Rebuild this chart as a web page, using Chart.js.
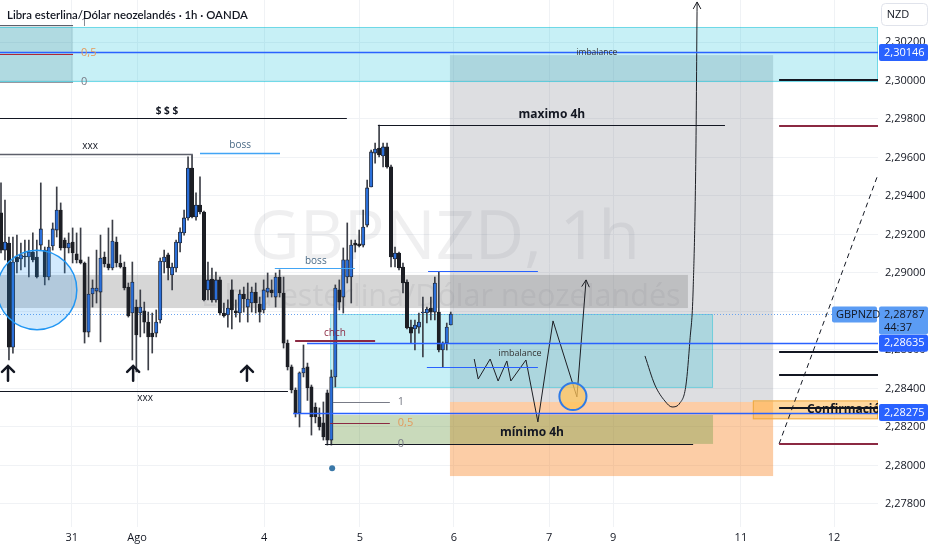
<!DOCTYPE html>
<html>
<head>
<meta charset="utf-8">
<script src="https://cdn.jsdelivr.net/npm/chart.js@4.4.1/dist/chart.umd.min.js"></script>
<style>
  html, body { margin: 0; padding: 0; background: #fff; }
  #wrap { width: 932px; height: 550px; }
</style>
</head>
<body>
<div id="wrap"><canvas id="chart" width="932" height="550"></canvas></div>
<script>
// ================= Data (GBPNZD 1h) =================
const opens = [2.29312,2.29119,2.29156,2.28615,2.29083,2.29073,2.29088,2.29083,2.29109,2.29083,
  2.29145,2.29119,2.28979,2.29140,2.29223,2.29327,2.29171,2.29130,2.29161,2.29099,
  2.29068,2.29052,2.28693,2.28891,2.28906,2.28901,2.29083,2.29047,2.29026,2.29161,
  2.29052,2.29031,2.28927,2.28792,2.28823,2.28792,2.28803,2.28745,2.28688,2.28688,
  2.28756,2.29057,2.29094,2.28990,2.29026,2.29156,2.29208,2.29286,2.29545,2.29291,
  2.29353,2.29317,2.28912,2.28969,2.28860,2.28964,2.28792,2.28782,2.28912,2.28803,
  2.28792,2.28891,2.28823,2.28844,2.28901,2.28839,2.28808,2.28901,2.28912,2.28875,
  2.28979,2.28896,2.28636,2.28512,2.28392,2.28273,2.28481,2.28512,2.28408,2.28304,
  2.28252,2.28221,2.28377,2.28132,2.28460,2.28912,2.28875,2.28979,2.28979,2.29156,
  2.29151,2.29145,2.29249,2.29447,2.29623,2.29649,2.29608,2.29655,2.29551,2.29073,
  2.29104,2.29031,2.28953,2.28719,2.28709,2.28719,2.28792,2.28792,2.28818,2.28797,
  2.28797,2.28600,2.28636,2.28730];
const highs = [2.29468,2.29379,2.29187,2.29187,2.29197,2.29156,2.29171,2.29171,2.29208,2.29171,
  2.29468,2.29135,2.29171,2.29260,2.29447,2.29364,2.29182,2.29208,2.29234,2.29208,
  2.29234,2.29057,2.29083,2.28964,2.29119,2.29197,2.29109,2.29234,2.29275,2.29187,
  2.29094,2.29057,2.28948,2.29057,2.28860,2.28912,2.28849,2.28797,2.28792,2.28808,
  2.29078,2.29119,2.29104,2.29052,2.29171,2.29234,2.29327,2.29603,2.29613,2.29416,
  2.29499,2.29322,2.29057,2.29026,2.29005,2.28979,2.28844,2.28860,2.28964,2.28860,
  2.28912,2.28927,2.28948,2.28927,2.28948,2.28875,2.28964,2.29000,2.28964,2.29000,
  2.29016,2.28979,2.28652,2.28522,2.28403,2.28486,2.28626,2.28532,2.28418,2.28325,
  2.28299,2.28330,2.28392,2.28496,2.28938,2.28964,2.29130,2.29260,2.29171,2.29171,
  2.29223,2.29327,2.29483,2.29639,2.29675,2.29769,2.29675,2.29675,2.29561,2.29135,
  2.29109,2.29052,2.28964,2.28756,2.28756,2.28792,2.28875,2.28823,2.28875,2.28979,
  2.29005,2.28642,2.28740,2.28797];
const lows = [2.29104,2.29068,2.28548,2.28584,2.29000,2.29016,2.29031,2.28979,2.29057,2.28974,
  2.29119,2.28938,2.28964,2.29119,2.29187,2.29119,2.29000,2.29104,2.29052,2.29052,
  2.29047,2.28636,2.28668,2.28823,2.28844,2.28642,2.29031,2.29016,2.29016,2.29031,
  2.29026,2.28912,2.28771,2.28548,2.28486,2.28668,2.28688,2.28496,2.28584,2.28668,
  2.28740,2.29000,2.28964,2.28912,2.29005,2.29109,2.29197,2.29275,2.29286,2.29275,
  2.29307,2.28855,2.28860,2.28849,2.28849,2.28782,2.28771,2.28719,2.28709,2.28771,
  2.28745,2.28797,2.28745,2.28797,2.28792,2.28745,2.28792,2.28875,2.28875,2.28823,
  2.28875,2.28610,2.28496,2.28377,2.28252,2.28200,2.28460,2.28338,2.28158,2.28221,
  2.28184,2.28132,2.28106,2.28106,2.28408,2.28808,2.28792,2.28948,2.28844,2.29109,
  2.29135,2.29135,2.29239,2.29447,2.29571,2.29603,2.29551,2.29545,2.29031,2.29031,
  2.29016,2.28896,2.28709,2.28636,2.28600,2.28688,2.28564,2.28740,2.28756,2.28756,
  2.28590,2.28512,2.28600,2.28730];
const closes = [2.29119,2.29161,2.28615,2.29057,2.29057,2.29094,2.29083,2.29109,2.29068,2.28979,
  2.29229,2.28979,2.29135,2.29229,2.29327,2.29130,2.29130,2.29156,2.29104,2.29068,
  2.29052,2.28693,2.28891,2.28922,2.28922,2.29078,2.29047,2.29026,2.29166,2.29052,
  2.29031,2.28922,2.28777,2.28953,2.28678,2.28823,2.28745,2.28668,2.28668,2.28745,
  2.29062,2.29083,2.29026,2.29031,2.29161,2.29213,2.29286,2.29545,2.29291,2.29353,
  2.29317,2.28860,2.28964,2.28860,2.28964,2.28792,2.28777,2.28818,2.28808,2.28792,
  2.28891,2.28865,2.28865,2.28901,2.28844,2.28797,2.28912,2.28922,2.28896,2.28979,
  2.28896,2.28636,2.28512,2.28392,2.28273,2.28481,2.28506,2.28403,2.28252,2.28252,
  2.28200,2.28148,2.28132,2.28460,2.28922,2.28849,2.29068,2.29068,2.29145,2.29145,
  2.29140,2.29239,2.29442,2.29629,2.29644,2.29613,2.29655,2.29551,2.29083,2.29104,
  2.29026,2.28948,2.28714,2.28688,2.28730,2.28745,2.28797,2.28813,2.28797,2.28948,
  2.28600,2.28636,2.28719,2.28787];

const dateTicks  = [17.8, 34.2, 66.1, 90.2, 113.8, 137.7, 153.8, 185.9, 209.3]; // bar index
const dateLabels = ['31', 'Ago', '4', '5', '6', '7', '9', '11', '12'];
const priceTicks = [2.278, 2.280, 2.282, 2.284, 2.286, 2.288, 2.290, 2.292, 2.294, 2.296, 2.298, 2.300, 2.302];
const lastPrice = 2.28787;
const taggedPrices = [2.30146, 2.28635, 2.28275];

// hand drawn paths (bar index, price)
const zigzagX = [118.9, 119.9, 122.9, 124.9, 127.1, 128.1, 131.9, 134.9, 138.7, 144.7, 147.0];
const zigzagY = [2.28553, 2.28449, 2.28553, 2.28439, 2.28543, 2.28439, 2.28548, 2.28226, 2.28751, 2.28356, 2.28964];
const uturnX = [161.8, 164.3, 166.8, 168.6, 170.6, 172.1, 173.1, 173.9, 174.6, 174.9];
const uturnY = [2.28569, 2.28418, 2.28335, 2.28304, 2.28325, 2.28418, 2.28652, 2.28912, 2.29639, 2.30408];
const trendX = [195.5, 220.3];
const trendY = [2.28112, 2.29509];

// ================= Drawings (bar index / price units) =================
const zones = [
  { x0: 112.8, x1: 194, top: 2.30132, bot: 2.28330, fill: 'rgba(120,123,134,0.25)' },   // target
  { x0: 112.8, x1: 194, top: 2.28330, bot: 2.27945, fill: 'rgba(249,136,42,0.42)' },    // stop
  { x0: 82.7, x1: 178.9, top: 2.28262, bot: 2.28112, fill: 'rgba(100,150,60,0.35)' },   // minimo 4h
  { x0: -1, x1: 172.6, top: 2.28990, bot: 2.28818, fill: 'rgba(120,120,120,0.30)' },    // grey band
  { x0: -1, x1: 18.1, top: 2.30288, bot: 2.29992, fill: 'rgba(120,123,134,0.22)' },     // fib box
  { x0: -1, x1: null, top: 2.30278, bot: 2.29992, fill: 'rgba(0,188,212,0.22)', stroke: 'rgba(0,188,212,0.45)' },
  { x0: 82.7, x1: 178.9, top: 2.28787, bot: 2.28403, fill: 'rgba(0,188,212,0.22)', stroke: 'rgba(0,188,212,0.35)' },
  { x0: 188.9, x1: null, top: 2.28338, bot: 2.28240, fill: 'rgba(255,183,77,0.55)', stroke: 'rgba(235,165,60,0.9)' }
];

const levels = [
  { p: 2.30288, x0: -1, x1: 18.1, c: '#5d606b', w: 1 },
  { p: 2.30140, x0: -1, x1: 18.1, c: '#b22833', w: 1 },
  { p: 2.29992, x0: -1, x1: 18.1, c: '#9598a1', w: 1 },
  { p: 2.30146, x0: -1, x1: null, c: '#2962ff', w: 1.5 },
  { p: 2.29805, x0: -1, x1: 86.9, c: '#131722', w: 1.2 },
  { p: 2.29618, x0: -1, x1: 48.2, c: '#5d606b', w: 1.5 },
  { p: 2.29623, x0: 50, x1: 70.1, c: '#42a5f5', w: 1.5 },
  { p: 2.29769, x0: 94.7, x1: 181.9, c: '#131722', w: 1 },
  { p: 2.30000, x0: 195.5, x1: null, c: '#131722', w: 2 },
  { p: 2.29766, x0: 195.5, x1: null, c: '#8b2942', w: 2 },
  { p: 2.29026, x0: 68.8, x1: 88.9, c: '#42a5f5', w: 1.2 },
  { p: 2.29010, x0: 107.3, x1: 134.9, c: '#2962ff', w: 1.2 },
  { p: 2.28647, x0: 73.9, x1: 94, c: '#8b2942', w: 2 },
  { p: 2.28635, x0: 76.9, x1: null, c: '#2962ff', w: 1.5 },
  { p: 2.28512, x0: 107, x1: 134.9, c: '#2962ff', w: 1.2 },
  { p: 2.28387, x0: -1, x1: 72.1, c: '#131722', w: 1 },
  { p: 2.28590, x0: 195.5, x1: null, c: '#131722', w: 2 },
  { p: 2.28470, x0: 195.5, x1: null, c: '#131722', w: 2 },
  { p: 2.28330, x0: 83.4, x1: 97.7, c: '#787b86', w: 1 },
  { p: 2.28221, x0: 82.7, x1: 97.7, c: '#8b2942', w: 1 },
  { p: 2.28112, x0: 81.4, x1: 173.9, c: '#131722', w: 1 },
  { p: 2.28275, x0: 73.4, x1: null, c: '#2962ff', w: 1.5 },
  { p: 2.28299, x0: 195.5, x1: null, c: '#131722', w: 2 },
  { p: 2.28112, x0: 195.5, x1: null, c: '#8b2942', w: 2 }
];

const notes = [
  { t: '1', x: 20.1, p: 2.30298, c: '#787b86', s: 11 },
  { t: '0,5', x: 20.1, p: 2.30143, c: '#e39a5c', s: 11 },
  { t: '0', x: 20.1, p: 2.29992, c: '#787b86', s: 11 },
  { t: 'imbalance', x: 149.7, p: 2.30146, c: '#333', s: 8.5, a: 'center' },
  { t: '$ $ $', x: 41.7, p: 2.29842, c: '#131722', s: 10, b: true, a: 'center' },
  { t: 'xxx', x: 22.4, p: 2.29660, c: '#131722', s: 10, a: 'center' },
  { t: 'boss', x: 60.1, p: 2.29665, c: '#4a6a85', s: 10, a: 'center' },
  { t: 'maximo 4h', x: 138.4, p: 2.29821, c: '#131722', s: 12, b: true, a: 'center' },
  { t: 'boss', x: 79.1, p: 2.29062, c: '#4a6a85', s: 10, a: 'center' },
  { t: 'chch', x: 83.9, p: 2.28688, c: '#8b2942', s: 10, a: 'center' },
  { t: 'imbalance', x: 130.4, p: 2.28584, c: '#333', s: 9, a: 'center' },
  { t: '1', x: 99.7, p: 2.28330, c: '#787b86', s: 11 },
  { t: '0,5', x: 99.7, p: 2.28221, c: '#e39a5c', s: 11 },
  { t: '0', x: 99.7, p: 2.28112, c: '#787b86', s: 11 },
  { t: 'mínimo 4h', x: 133.4, p: 2.28169, c: '#131722', s: 12, b: true, a: 'center' },
  { t: 'xxx', x: 36.2, p: 2.28351, c: '#131722', s: 10, a: 'center' },
  { t: 'Confirmación', x: 202.5, p: 2.28288, c: '#131722', s: 12, b: true }
];

const upArrows = [1.76, 33.2, 61.8];
const arrowTip = 2.28517, arrowBase = 2.28440;

const FONT = '"Open Sans", "Noto Sans", sans-serif';
const fmt = p => p.toFixed(5).replace('.', ',');

// ================= Candles =================
const barIndex = opens.map((_, i) => i);
const isUp = barIndex.map(i => closes[i] >= opens[i]);
const UP = '#2b6fd9', DOWN = '#1c1e24', EDGE = '#1c1e24', WICK = '#3c3f47';

const toPoints = (xs, ys) => xs.map((v, i) => ({ x: v, y: ys[i] }));

function arrowHead(ctx, x1, y1, x2, y2, len) {
  const ang = Math.atan2(y2 - y1, x2 - x1);
  ctx.beginPath();
  ctx.moveTo(x2 - len * Math.cos(ang - 0.5), y2 - len * Math.sin(ang - 0.5));
  ctx.lineTo(x2, y2);
  ctx.lineTo(x2 - len * Math.cos(ang + 0.5), y2 - len * Math.sin(ang + 0.5));
  ctx.stroke();
}

function roundRect(ctx, x, y, w, h, r) {
  ctx.beginPath();
  ctx.moveTo(x + r, y);
  ctx.arcTo(x + w, y, x + w, y + h, r);
  ctx.arcTo(x + w, y + h, x, y + h, r);
  ctx.arcTo(x, y + h, x, y, r);
  ctx.arcTo(x, y, x + w, y, r);
  ctx.closePath();
}

// no label overflow padding, the plot runs edge to edge like TradingView
const noPad = s => { s.paddingTop = 0; s.paddingBottom = 0; s.paddingLeft = 0; s.paddingRight = 0; };

const overlay = {
  id: 'overlay',
  beforeDatasetsDraw(chart) {
    const { ctx, chartArea: a, scales: { x, y } } = chart;
    const px = v => v == null ? a.right : x.getPixelForValue(v);
    ctx.save();
    ctx.beginPath(); ctx.rect(a.left, a.top, a.width, a.height); ctx.clip();

    // watermark
    ctx.fillStyle = 'rgba(120,123,134,0.12)';
    ctx.textAlign = 'center'; ctx.textBaseline = 'middle';
    const cx = a.left + a.width * 0.507;
    ctx.font = `100px ${FONT}`;
    let s = 100 * 390 / ctx.measureText('GBPNZD, 1h').width;
    ctx.font = `${s}px ${FONT}`;
    ctx.fillText('GBPNZD, 1h', cx, a.top + a.height * 0.455);
    ctx.font = `100px ${FONT}`;
    s = 100 * 480 / ctx.measureText('Libra esterlina/Dólar neozelandés').width;
    ctx.font = `${s}px ${FONT}`;
    ctx.fillText('Libra esterlina/Dólar neozelandés', a.left + a.width * 0.502, a.top + a.height * 0.565);

    zones.forEach(z => {
      const x0 = px(z.x0), x1 = px(z.x1), y0 = y.getPixelForValue(z.top), y1 = y.getPixelForValue(z.bot);
      ctx.fillStyle = z.fill;
      ctx.fillRect(x0, y0, x1 - x0, y1 - y0);
      if (z.stroke) {
        ctx.strokeStyle = z.stroke; ctx.lineWidth = 1;
        ctx.strokeRect(x0 + 0.5, y0 + 0.5, x1 - x0 - 1, y1 - y0 - 1);
      }
    });

    // current price dotted line
    const yl = Math.round(y.getPixelForValue(lastPrice)) + 0.5;
    ctx.strokeStyle = '#6aa3ee'; ctx.lineWidth = 1; ctx.setLineDash([1, 2]);
    ctx.beginPath(); ctx.moveTo(a.left, yl); ctx.lineTo(a.right, yl); ctx.stroke();
    ctx.setLineDash([]);
    ctx.restore();
  },
  afterDatasetsDraw(chart) {
    const { ctx, chartArea: a, scales: { x, y } } = chart;
    const px = v => v == null ? a.right : x.getPixelForValue(v);
    const barW = x.getPixelForValue(1) - x.getPixelForValue(0);
    ctx.save();
    ctx.beginPath(); ctx.rect(a.left, a.top, a.width, a.height); ctx.clip();

    levels.forEach(l => {
      const yy = Math.round(y.getPixelForValue(l.p)) + (l.w % 2 ? 0.5 : 0);
      ctx.strokeStyle = l.c; ctx.lineWidth = l.w;
      ctx.beginPath(); ctx.moveTo(px(l.x0), yy); ctx.lineTo(px(l.x1), yy); ctx.stroke();
    });

    // blue circle (left)
    ctx.beginPath();
    ctx.arc(px(9.05), y.getPixelForValue(2.28912), 10 * barW, 0, Math.PI * 2);
    ctx.fillStyle = 'rgba(33,150,243,0.2)'; ctx.fill();
    ctx.strokeStyle = '#2196f3'; ctx.lineWidth = 1.5; ctx.stroke();

    // yellow circle
    ctx.beginPath();
    ctx.arc(px(143.7), y.getPixelForValue(2.28358), 3.4 * barW, 0, Math.PI * 2);
    ctx.fillStyle = 'rgba(255,196,90,0.75)'; ctx.fill();
    ctx.strokeStyle = '#2f7be6'; ctx.lineWidth = 2; ctx.stroke();

    // dot under the low
    ctx.beginPath();
    ctx.arc(px(83.2), y.getPixelForValue(2.27985), 3, 0, Math.PI * 2);
    ctx.fillStyle = '#3a78a8'; ctx.fill();

    // arrow heads on the paths
    ctx.strokeStyle = '#1c1e24'; ctx.lineWidth = 1;
    const n = zigzagX.length - 1;
    arrowHead(ctx, px(zigzagX[n - 1]), y.getPixelForValue(zigzagY[n - 1]), px(zigzagX[n]), y.getPixelForValue(zigzagY[n]), 8);
    const m = uturnX.length - 1;
    arrowHead(ctx, px(uturnX[m - 1]), y.getPixelForValue(uturnY[m - 1]), px(uturnX[m]), y.getPixelForValue(uturnY[m]), 8);

    // up arrows
    ctx.strokeStyle = '#131722'; ctx.lineWidth = 2.5; ctx.lineCap = 'round';
    upArrows.forEach(v => {
      const xx = px(v), yt = y.getPixelForValue(arrowTip), yb = y.getPixelForValue(arrowBase);
      ctx.beginPath(); ctx.moveTo(xx, yb); ctx.lineTo(xx, yt + 1); ctx.stroke();
      ctx.beginPath(); ctx.moveTo(xx - 6, yt + 6); ctx.lineTo(xx, yt); ctx.lineTo(xx + 6, yt + 6); ctx.stroke();
    });
    ctx.lineCap = 'butt';

    // texts
    ctx.textBaseline = 'middle';
    notes.forEach(n => {
      ctx.font = `${n.b ? 'bold ' : ''}${n.s}px ${FONT}`;
      ctx.fillStyle = n.c;
      ctx.textAlign = n.a || 'left';
      ctx.fillText(n.t, px(n.x), y.getPixelForValue(n.p));
    });
    ctx.restore();
  },
  afterDraw(chart) {
    const { ctx, chartArea: a, scales: { y } } = chart;
    ctx.save();
    ctx.textBaseline = 'middle'; ctx.textAlign = 'left';
    ctx.font = `11px ${FONT}`;
    const L = a.right + 1, W = 49;

    // last price tag + symbol tag
    const yl = y.getPixelForValue(lastPrice);
    ctx.fillStyle = '#5b9cf4';
    roundRect(ctx, L, yl - 7.5, W, 28, 2); ctx.fill();
    roundRect(ctx, a.right - 46, yl - 7.5, 45, 16, 2); ctx.fill();
    ctx.fillStyle = '#131722';
    ctx.fillText(fmt(lastPrice), L + 5, yl + 0.5);
    ctx.fillText('44:37', L + 5, yl + 13.5);
    ctx.fillText('GBPNZD', a.right - 42, yl + 0.5);

    taggedPrices.forEach(p => {
      const yy = y.getPixelForValue(p);
      ctx.fillStyle = '#2962ff';
      roundRect(ctx, L, yy - 8.5, W, 17, 2); ctx.fill();
      ctx.fillStyle = '#fff';
      ctx.fillText(fmt(p), L + 5, yy);
    });

    // currency box
    ctx.strokeStyle = '#e0e3eb'; ctx.lineWidth = 1;
    roundRect(ctx, 881.5, 3.5, 46, 22, 4); ctx.fillStyle = '#fff'; ctx.fill(); ctx.stroke();
    ctx.fillStyle = '#131722'; ctx.textAlign = 'center';
    ctx.fillText('NZD', 898, 15);

    // legend title, sized to the width it takes in the screenshot
    const title = 'Libra esterlina/Dólar neozelandés · 1h · OANDA';
    ctx.textAlign = 'left';
    ctx.font = `600 12px Lato, ${FONT}`;
    const tw = ctx.measureText(title).width;
    const ts = Math.min(12.5, 12 * 241 / tw);
    ctx.font = `600 ${ts}px Lato, ${FONT}`;
    ctx.fillText(title, 7, 15);
    ctx.restore();
  }
};

const chart = new Chart(document.getElementById('chart'), {
  type: 'bar',
  data: {
    datasets: [
      {
        label: 'wicks', order: 3, grouped: false,
        data: barIndex.map(i => ({ x: i, y: [lows[i], highs[i]] })),
        backgroundColor: WICK, barThickness: 1, minBarLength: 1
      },
      {
        label: 'bodies', order: 2, grouped: false,
        data: barIndex.map(i => ({ x: i, y: [Math.min(opens[i], closes[i]), Math.max(opens[i], closes[i])] })),
        backgroundColor: barIndex.map(i => isUp[i] ? UP : DOWN),
        borderColor: EDGE, borderWidth: 0.8, borderSkipped: false,
        barThickness: 3.4, minBarLength: 1
      },
      {
        type: 'line', label: 'zigzag', order: 1,
        data: toPoints(zigzagX, zigzagY),
        borderColor: '#1c1e24', borderWidth: 1, pointRadius: 0, tension: 0
      },
      {
        type: 'line', label: 'uturn', order: 1,
        data: toPoints(uturnX, uturnY),
        borderColor: '#1c1e24', borderWidth: 1, pointRadius: 0, cubicInterpolationMode: 'monotone'
      },
      {
        type: 'line', label: 'trend', order: 1,
        data: toPoints(trendX, trendY),
        borderColor: '#131722', borderWidth: 1, borderDash: [5, 4], pointRadius: 0
      }
    ]
  },
  options: {
    responsive: false,
    animation: false,
    layout: { padding: 0 },
    plugins: { legend: { display: false }, tooltip: { enabled: false } },
    scales: {
      x: {
        type: 'linear', min: -0.25, max: 220.35, offset: false,
        afterBuildTicks: s => { s.ticks = dateTicks.map(v => ({ value: v })); },
        afterFit: s => { s.height = 23; noPad(s); },
        ticks: {
          autoSkip: false, maxRotation: 0, padding: 4, color: '#131722',
          font: { family: FONT, size: 11 },
          callback: v => dateLabels[dateTicks.findIndex(t => Math.abs(t - v) < 0.01)]
        },
        grid: { color: '#f0f2f5', drawTicks: false, offset: false },
        border: { display: false }
      },
      y: {
        type: 'linear', position: 'right', min: 2.276804, max: 2.304182,
        afterBuildTicks: s => { s.ticks = priceTicks.map(v => ({ value: v })); },
        afterFit: s => { s.width = 54; noPad(s); },
        ticks: {
          padding: 7, color: '#131722',
          font: { family: FONT, size: 11 },
          callback: v => fmt(v)
        },
        grid: { color: '#f0f2f5', drawTicks: false },
        border: { display: false }
      }
    }
  },
  plugins: [overlay]
});
</script>
</body>
</html>
